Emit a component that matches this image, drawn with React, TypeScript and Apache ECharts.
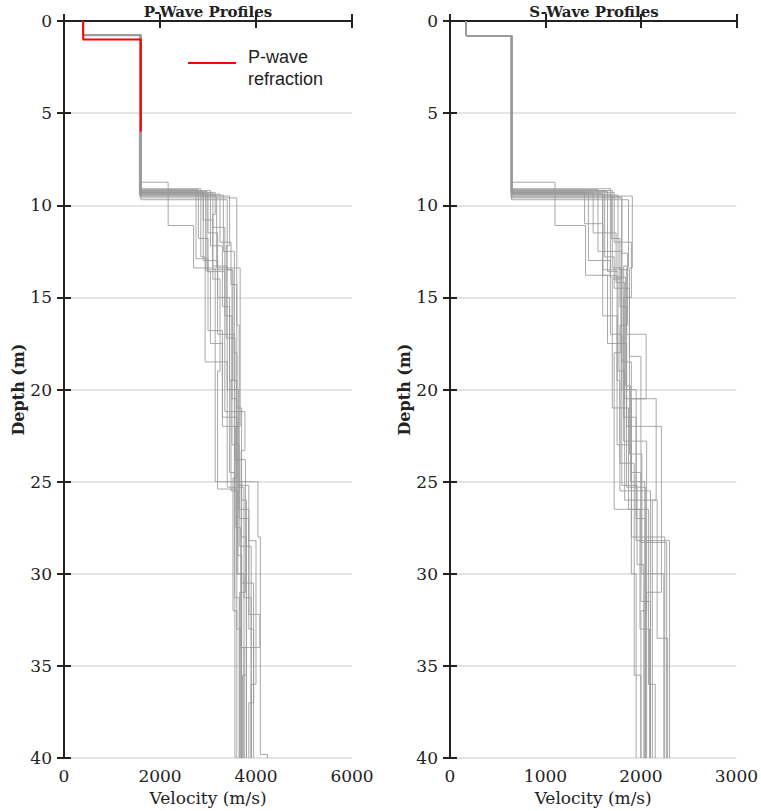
import React, { useEffect, useRef } from "react";
import * as echarts from "echarts";

// Depth ticks (m)
const depthTicks = [0, 5, 10, 15, 20, 25, 30, 35, 40];
const pVelocityTicks = [0, 2000, 4000, 6000];
const sVelocityTicks = [0, 1000, 2000, 3000];

// P-wave refraction: [velocity m/s, bottom depth m] per layer
const pRefraction: number[][] = [[400, 1.0], [1600, 6.0]];

// P-wave profiles: layers of [velocity m/s, bottom depth m]
const pProfiles: number[][][] = [
  [[400, 0.75], [1580, 8.75], [2170, 11.1], [2700, 13.4], [3150, 18.5], [3400, 25.3], [3750, 31.3], [3900, 40]],
  [[400, 0.75], [1600, 9.2], [2750, 12.9], [3000, 13.6], [3350, 21.2], [3770, 23.3], [3690, 28.0], [3800, 40]],
  [[400, 0.8], [1590, 9.3], [2950, 13.5], [3200, 17.0], [3550, 25.0], [4040, 28.0], [4090, 39.8], [4240, 40]],
  [[400, 0.75], [1570, 9.4], [3000, 11.5], [3200, 13.5], [3500, 20.5], [3600, 30.0], [3700, 40]],
  [[400, 0.75], [1610, 9.5], [3180, 13.4], [3600, 16.5], [3650, 27.0], [3850, 32.2], [4080, 34.0], [3750, 40]],
  [[400, 0.75], [1590, 9.6], [3600, 13.4], [3670, 22.0], [3560, 29.0], [3560, 40]],
  [[400, 0.75], [1580, 9.3], [2900, 10.8], [3100, 14.0], [3250, 19.0], [3200, 25.4], [3600, 33.0], [3680, 40]],
  [[400, 0.75], [1600, 9.2], [3050, 12.2], [3300, 15.5], [3450, 24.5], [3550, 31.3], [3650, 40]],
  [[400, 0.75], [1590, 9.1], [2850, 12.8], [2940, 18.5], [3150, 25.0], [3700, 30.5], [3950, 37.0], [3850, 40]],
  [[400, 0.75], [1595, 9.4], [3250, 12.0], [3480, 14.3], [3600, 21.0], [3700, 26.0], [3800, 35.5], [3720, 40]],
  [[400, 0.75], [1585, 9.35], [3100, 11.2], [3350, 16.0], [3500, 23.0], [3650, 28.5], [3900, 40]],
  [[400, 0.75], [1605, 9.7], [3400, 13.5], [3520, 19.5], [3480, 25.5], [3620, 30.0], [3750, 40]],
  [[400, 0.75], [1590, 9.25], [2980, 13.6], [3050, 17.5], [3300, 22.0], [3580, 27.5], [3680, 34.0], [3800, 40]],
  [[400, 0.75], [1575, 9.45], [3320, 12.5], [3550, 18.0], [3600, 24.8], [3520, 32.0], [3600, 40]],
  [[400, 0.75], [1600, 9.3], [3150, 10.5], [3100, 13.3], [3400, 20.0], [3640, 26.5], [3850, 33.0], [3950, 40]],
  [[400, 0.75], [1590, 9.15], [2800, 11.8], [3000, 16.8], [3300, 21.5], [3620, 29.0], [3700, 40]],
  [[400, 0.75], [1580, 9.5], [3450, 12.2], [3380, 17.2], [3560, 23.8], [3780, 31.0], [3660, 40]],
  [[400, 0.75], [1595, 9.35], [2900, 13.0], [3200, 15.0], [3450, 19.5], [3600, 25.2], [3850, 28.2], [4000, 36.0], [3900, 40]],
];

// S-wave profiles: layers of [velocity m/s, bottom depth m]
const sProfiles: number[][][] = [
  [[170, 0.8], [645, 8.75], [1100, 11.1], [1420, 13.8], [1650, 17.5], [1850, 25.3], [2050, 40]],
  [[170, 0.8], [645, 9.2], [1700, 13.4], [1800, 20.0], [1950, 28.2], [2300, 40]],
  [[170, 0.8], [640, 9.3], [1720, 12.0], [1900, 15.0], [1820, 22.8], [2060, 32.0], [2000, 40]],
  [[170, 0.8], [650, 9.4], [1600, 13.8], [1750, 19.5], [1780, 25.5], [2100, 40]],
  [[170, 0.8], [645, 9.5], [1910, 13.4], [1850, 17.0], [2055, 20.5], [1900, 28.0], [2250, 40]],
  [[170, 0.8], [645, 9.6], [1800, 14.0], [1700, 21.0], [1870, 26.5], [2080, 36.0], [2150, 40]],
  [[170, 0.8], [640, 9.3], [1410, 11.0], [1600, 16.0], [1750, 23.0], [1900, 30.0], [1950, 40]],
  [[170, 0.8], [645, 9.15], [1550, 12.5], [1800, 18.5], [1900, 24.5], [2000, 31.5], [2100, 40]],
  [[170, 0.8], [650, 9.25], [1650, 13.6], [1760, 19.0], [1830, 26.0], [2170, 33.5], [2280, 40]],
  [[170, 0.8], [645, 9.4], [1690, 11.8], [1780, 15.5], [1850, 22.0], [2215, 31.0], [2060, 40]],
  [[170, 0.8], [640, 9.35], [1450, 13.0], [1680, 17.0], [1800, 25.2], [1960, 29.5], [2030, 40]],
  [[170, 0.8], [645, 9.7], [1870, 13.3], [1820, 21.5], [1950, 27.0], [2050, 40]],
  [[170, 0.8], [645, 9.2], [1620, 12.8], [1720, 14.5], [1880, 23.5], [2010, 30.0], [2240, 40]],
  [[170, 0.8], [650, 9.45], [1760, 13.4], [1790, 18.0], [1720, 26.5], [1990, 33.0], [2090, 40]],
  [[170, 0.8], [645, 9.3], [1500, 11.5], [1740, 14.2], [1830, 20.5], [2160, 26.0], [2120, 40]],
  [[170, 0.8], [645, 9.1], [1680, 13.9], [1840, 19.8], [1890, 25.0], [2040, 40]],
  [[170, 0.8], [640, 9.55], [1800, 12.6], [1860, 16.5], [1780, 24.0], [1930, 35.5], [2000, 40]],
  [[170, 0.8], [645, 9.35], [1600, 13.5], [1880, 18.2], [2000, 28.3], [2270, 40]],
];

const SERIF = "'DejaVu Serif', serif";
const SANS = "'Liberation Sans', Arial, sans-serif";
const INK = "#222";

function steps(layers: number[][]): number[][] {
  const pts: number[][] = [];
  let top = 0;
  for (const [v, bottom] of layers) {
    pts.push([v, top], [v, bottom]);
    top = bottom;
  }
  return pts;
}

const axisLineStyle = { show: true, lineStyle: { color: INK, width: 2 } };
const tickStyle = { show: true, inside: false, length: 7, lineStyle: { color: INK, width: 2 } };
const plain = (v: number) => String(v);

function xAxes(gridIndex: number, ticks: number[]) {
  const max = ticks[ticks.length - 1];
  const interval = ticks[1] - ticks[0];
  return [
    {
      type: "value",
      gridIndex,
      position: "bottom",
      min: ticks[0],
      max,
      interval,
      axisLine: axisLineStyle,
      axisTick: tickStyle,
      splitLine: { show: false },
      axisLabel: { color: INK, fontFamily: SERIF, fontSize: 17, margin: 9, formatter: plain },
      name: "Velocity (m/s)",
      nameLocation: "middle",
      nameGap: 27,
      nameTextStyle: { color: INK, fontFamily: SERIF, fontSize: 17 },
    },
    {
      type: "value",
      gridIndex,
      position: "top",
      min: ticks[0],
      max,
      interval,
      axisLine: axisLineStyle,
      axisTick: tickStyle,
      splitLine: { show: false },
      axisLabel: { show: false },
    },
  ];
}

function yAxes(gridIndex: number) {
  const max = depthTicks[depthTicks.length - 1];
  const interval = depthTicks[1] - depthTicks[0];
  return [
    {
      type: "value",
      gridIndex,
      position: "left",
      inverse: true,
      min: depthTicks[0],
      max,
      interval,
      axisLine: axisLineStyle,
      axisTick: tickStyle,
      splitLine: { show: true, lineStyle: { color: "#dcdcdc", width: 1.5 } },
      axisLabel: { color: INK, fontFamily: SERIF, fontSize: 17, margin: 12, formatter: plain },
      name: "Depth (m)",
      nameLocation: "middle",
      nameGap: 36,
      nameRotate: 90,
      nameTextStyle: { color: INK, fontFamily: SERIF, fontSize: 16, fontWeight: "bold" },
    },
    {
      type: "value",
      gridIndex,
      position: "right",
      inverse: true,
      min: depthTicks[0],
      max,
      interval,
      axisLine: axisLineStyle,
      axisTick: tickStyle,
      splitLine: { show: false },
      axisLabel: { show: false },
    },
  ];
}

export default function App() {
  const ref = useRef<HTMLDivElement>(null);

  useEffect(() => {
    if (!ref.current) return;
    const chart = echarts.init(ref.current, undefined, { renderer: "svg" });

    const grayLine = { color: "#9a9a9a", width: 1, opacity: 0.85 };
    const series: any[] = [];
    pProfiles.forEach((p, i) =>
      series.push({
        name: `P profile ${i + 1}`,
        type: "line",
        xAxisIndex: 0,
        yAxisIndex: 0,
        data: steps(p),
        showSymbol: false,
        lineStyle: grayLine,
        z: 2,
      })
    );
    sProfiles.forEach((p, i) =>
      series.push({
        name: `S profile ${i + 1}`,
        type: "line",
        xAxisIndex: 2,
        yAxisIndex: 2,
        data: steps(p),
        showSymbol: false,
        lineStyle: grayLine,
        z: 2,
      })
    );
    series.push({
      name: "P-wave refraction",
      type: "line",
      xAxisIndex: 0,
      yAxisIndex: 0,
      data: steps(pRefraction),
      showSymbol: false,
      lineStyle: { color: "#ff0000", width: 2 },
      z: 3,
    });

    chart.setOption({
      animation: false,
      grid: [
        { left: 64, top: 21, width: 288, height: 740 },
        { left: 450, top: 21, width: 287, height: 740 },
      ],
      xAxis: [...xAxes(0, pVelocityTicks), ...xAxes(1, sVelocityTicks)],
      yAxis: [...yAxes(0), ...yAxes(1)],
      series,
      graphic: [
        {
          type: "text",
          x: 208,
          y: 12,
          z: 10,
          style: { text: "P-Wave Profiles", align: "center", verticalAlign: "middle", font: `bold 15px ${SERIF}`, fill: INK },
        },
        {
          type: "text",
          x: 594,
          y: 12,
          z: 10,
          style: { text: "S-Wave Profiles", align: "center", verticalAlign: "middle", font: `bold 15px ${SERIF}`, fill: INK },
        },
        {
          type: "line",
          shape: { x1: 188, y1: 63, x2: 236, y2: 63 },
          style: { stroke: "#ff0000", lineWidth: 2 },
        },
        {
          type: "text",
          x: 248,
          y: 46,
          style: { text: "P-wave\nrefraction", lineHeight: 22, verticalAlign: "top", font: `18px ${SANS}`, fill: INK },
        },
      ],
    });

    return () => chart.dispose();
  }, []);

  return (
    <div
      ref={ref}
      style={{ position: "absolute", left: 0, top: 0, width: 761, height: 811 }}
    />
  );
}
